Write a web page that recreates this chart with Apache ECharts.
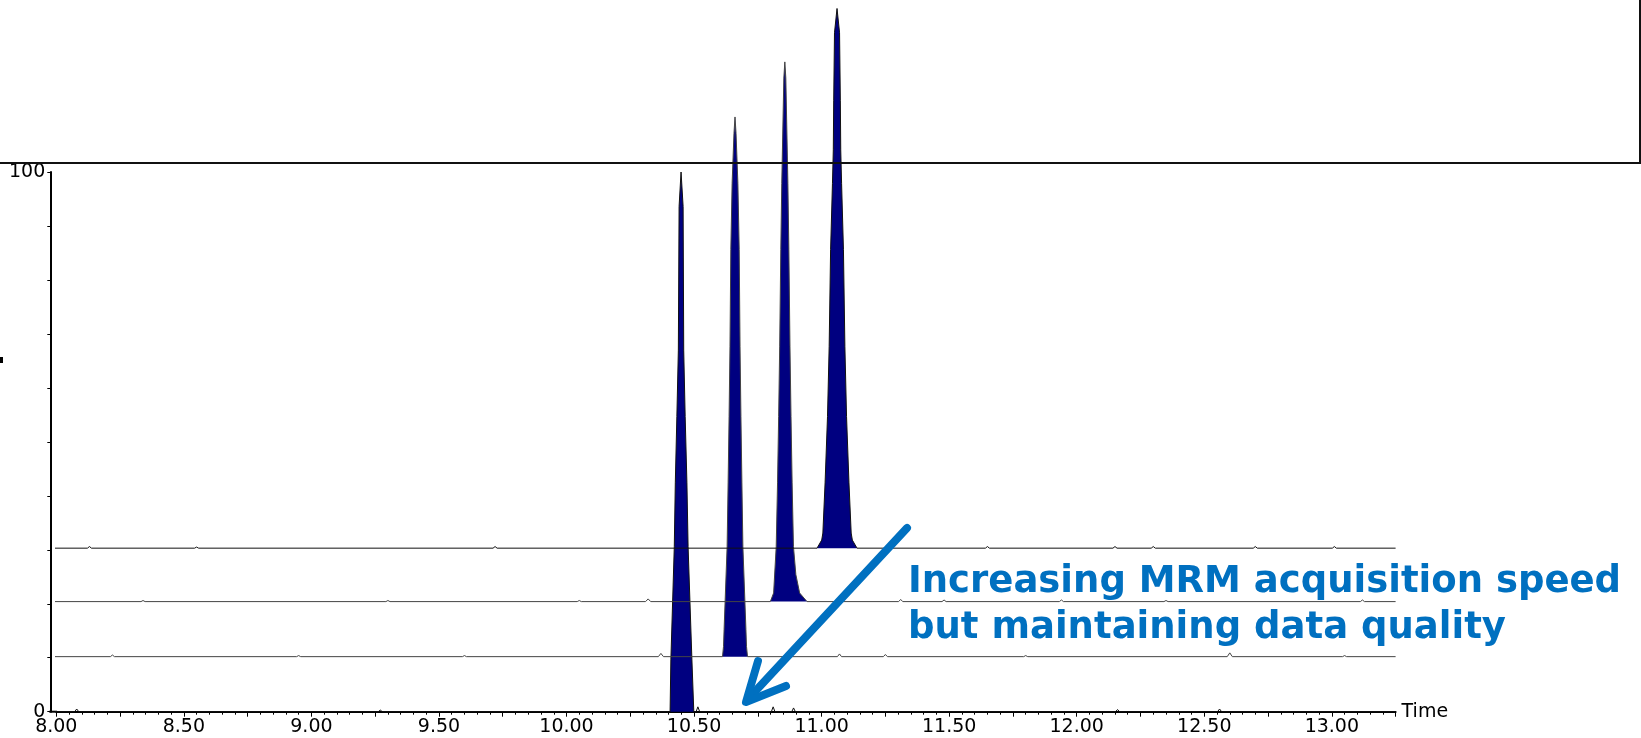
<!DOCTYPE html>
<html>
<head>
<meta charset="utf-8">
<title>MRM chromatograms</title>
<script src="https://cdn.jsdelivr.net/npm/echarts/dist/echarts.min.js"></script>
<style>
  html, body { margin: 0; padding: 0; background: #fff; }
  #chart { width: 1641px; height: 738px; }
</style>
</head>
<body>
<div id="chart"></div>
<script>
// baseline offset of each trace, in %
const offsets = [0, 10.2, 20.4, 30.3];

// peak profiles [time, % above the trace baseline]
const peak1 = [[10.406,0],[10.4091,9.6],[10.4225,30.6],[10.4265,42.4],[10.4326,54.7],[10.4384,67],[10.4413,93.6],[10.449,100],
  [10.4571,93.6],[10.4594,67],[10.4651,54.7],[10.472,42.4],[10.4766,30.6],[10.4916,9.6],[10.499,0]];
const peak2 = [[10.6115,0],[10.6155,1.9],[10.6177,5],[10.6296,20.4],[10.6335,32.2],[10.6373,44.5],[10.6408,57.4],[10.6441,75.4],
  [10.6492,87.7],[10.6565,97],[10.6605,100],[10.6645,97],[10.6718,87.7],[10.6769,75.4],[10.6802,57.4],[10.6837,44.5],
  [10.6875,32.2],[10.6914,20.4],[10.7033,5],[10.7055,1.9],[10.7095,0]];
const peak3 = [[10.799,0],[10.8119,1.6],[10.822,10.2],[10.8272,22],[10.8316,34.3],[10.8356,47.2],[10.84,65.2],[10.8438,77.5],
  [10.8519,97],[10.8558,100],[10.8597,97],[10.8678,77.5],[10.8716,65.2],[10.876,47.2],[10.88,34.3],[10.8844,22],
  [10.8896,10.2],[10.899,5],[10.9138,1.6],[10.9428,0]];
const peak4 = [[10.982,0],[11.0004,1.5],[11.0049,2.8],[11.0136,12.1],[11.0231,24.4],[11.0296,37.4],[11.0352,55.3],[11.0425,67.6],
  [11.0458,73.8],[11.0474,83],[11.0505,95.5],[11.0604,100],[11.0703,95.5],[11.0734,83],[11.075,73.8],[11.0783,67.6],
  [11.0856,55.3],[11.0912,37.4],[11.0977,24.4],[11.1072,12.1],[11.1159,2.8],[11.1204,1.5],[11.1388,0]];

// baseline noise [time, % above the trace baseline]
const noise1 = [[7.977,0],[8.072,0],[8.08,0.5],[8.088,0],[9.262,0],[9.27,0.3],[9.278,0],[10.508,0],[10.515,0.9],[10.522,0],
  [10.803,0],[10.81,0.9],[10.817,0],[10.883,0],[10.89,0.7],[10.897,0],[12.152,0],[12.16,0.4],[12.168,0],
  [12.552,0],[12.56,0.5],[12.568,0],[13.25,0]];
const noise2 = [[7.977,0],[8.212,0],[8.22,0.3],[8.228,0],[8.942,0],[8.95,0.2],[8.958,0],[9.592,0],[9.6,0.2],[9.608,0],
  [10.36,0],[10.37,0.6],[10.38,0],[11.062,0],[11.07,0.5],[11.078,0],[11.242,0],[11.25,0.4],[11.258,0],
  [11.792,0],[11.8,0.2],[11.808,0],[12.59,0],[12.6,0.7],[12.61,0],[13.042,0],[13.05,0.2],[13.058,0],[13.25,0]];
const noise3 = [[7.977,0],[8.332,0],[8.34,0.2],[8.348,0],[9.292,0],[9.3,0.2],[9.308,0],[10.042,0],[10.05,0.2],[10.058,0],
  [10.31,0],[10.32,0.5],[10.33,0],[11.302,0],[11.31,0.4],[11.318,0],[11.472,0],[11.48,0.3],[11.488,0],
  [11.932,0],[11.94,0.3],[11.948,0],[12.342,0],[12.35,0.2],[12.358,0],[13.112,0],[13.12,0.3],[13.128,0],[13.25,0]];
const noise4 = [[7.977,0],[8.122,0],[8.13,0.3],[8.138,0],[8.542,0],[8.55,0.2],[8.558,0],[9.712,0],[9.72,0.3],[9.728,0],
  [11.642,0],[11.65,0.3],[11.658,0],[12.142,0],[12.15,0.3],[12.158,0],[12.292,0],[12.3,0.3],[12.308,0],
  [12.692,0],[12.7,0.3],[12.708,0],[13.002,0],[13.01,0.3],[13.018,0],[13.25,0]];

const peaks = [peak1, peak2, peak3, peak4];
const noises = [noise1, noise2, noise3, noise4];
const lineColors = ['#111', '#444', '#444', '#111'];

function shift(points, off) {
  return points.map(p => [p[0], p[1] + off]);
}

let series = [];
// filled peaks first, trace lines on top
peaks.forEach((pk, i) => {
  series.push({
    type: 'line',
    data: shift(pk, offsets[i]),
    symbol: 'none',
    clip: false,
    lineStyle: { width: 0, opacity: 0 },
    areaStyle: { color: '#000080', opacity: 1, origin: offsets[i] },
    z: 2
  });
});
noises.forEach((nz, i) => {
  let pts = nz.concat(peaks[i]).sort((a, b) => a[0] - b[0]);
  series.push({
    type: 'line',
    data: shift(pts, offsets[i]),
    symbol: 'none',
    clip: false,
    lineStyle: { width: 1, color: lineColors[i] },
    z: 3
  });
});

const font = 'DejaVu Sans';
const blue = '#0070C0';

const option = {
  animation: false,
  backgroundColor: '#fff',
  grid: { left: 56.3, right: 245.4, top: 172, bottom: 26.3, containLabel: false, outerBoundsMode: 'none' },
  xAxis: {
    type: 'value',
    min: 8,
    max: 13.25,
    interval: 0.25,
    name: 'Time',
    nameLocation: 'end',
    nameGap: 6,
    nameTextStyle: { fontFamily: font, fontSize: 19, color: '#000' },
    axisLine: { onZero: false, lineStyle: { color: '#000', width: 2 } },
    axisTick: { length: 5, lineStyle: { color: '#000', width: 1 } },
    minorTick: { show: true, splitNumber: 5, length: 3, lineStyle: { color: '#000', width: 1 } },
    splitLine: { show: false },
    axisLabel: {
      fontFamily: font, fontSize: 19, color: '#000', margin: 6,
      formatter: v => Math.abs(v * 2 - Math.round(v * 2)) < 1e-6 ? v.toFixed(2) : ''
    }
  },
  yAxis: {
    type: 'value',
    min: 0,
    max: 100,
    interval: 10,
    offset: 6,
    name: '%',
    nameLocation: 'middle',
    nameGap: 14,
    nameTextStyle: { fontFamily: font, fontSize: 19, color: '#000' },
    axisLine: { show: true, lineStyle: { color: '#000', width: 2 } },
    axisTick: { show: true, length: 3, lineStyle: { color: '#000', width: 1 } },
    splitLine: { show: false },
    axisLabel: {
      fontFamily: font, fontSize: 19, color: '#000', margin: 5,
      formatter: v => (v === 0 || v === 100) ? String(v) : ''
    }
  },
  graphic: [
    // box of the panel above
    { type: 'line', shape: { x1: 0, y1: 163, x2: 1641, y2: 163 }, style: { stroke: '#111', lineWidth: 2 }, z: 10 },
    { type: 'line', shape: { x1: 1640, y1: 0, x2: 1640, y2: 163 }, style: { stroke: '#111', lineWidth: 2 }, z: 10 },
    { type: 'rect', shape: { x: 0, y: 357, width: 3, height: 6 }, style: { fill: '#000' } },
    // close the corner between y axis and x axis
    { type: 'line', shape: { x1: 49.3, y1: 711.7, x2: 57, y2: 711.7 }, style: { stroke: '#000', lineWidth: 2 } },
    // arrow
    { type: 'line', shape: { x1: 907, y1: 528, x2: 749, y2: 698 },
      style: { stroke: blue, lineWidth: 8, lineCap: 'round' }, z: 20 },
    { type: 'polyline', shape: { points: [[758, 661], [746, 702], [786, 686]] },
      style: { stroke: blue, lineWidth: 8, lineCap: 'round', lineJoin: 'round', fill: null }, z: 20 },
    // annotation
    { type: 'text', x: 908, y: 582, z: 20,
      style: { text: 'Increasing MRM acquisition speed', fill: blue, fontFamily: 'DejaVu Sans', fontWeight: 'bold',
        fontSize: 37, verticalAlign: 'middle', align: 'left' } },
    { type: 'text', x: 908, y: 628, z: 20,
      style: { text: 'but maintaining data quality', fill: blue, fontFamily: 'DejaVu Sans', fontWeight: 'bold',
        fontSize: 37, verticalAlign: 'middle', align: 'left' } }
  ],
  series: series
};

const chart = echarts.init(document.getElementById('chart'));
chart.setOption(option);
</script>
</body>
</html>
